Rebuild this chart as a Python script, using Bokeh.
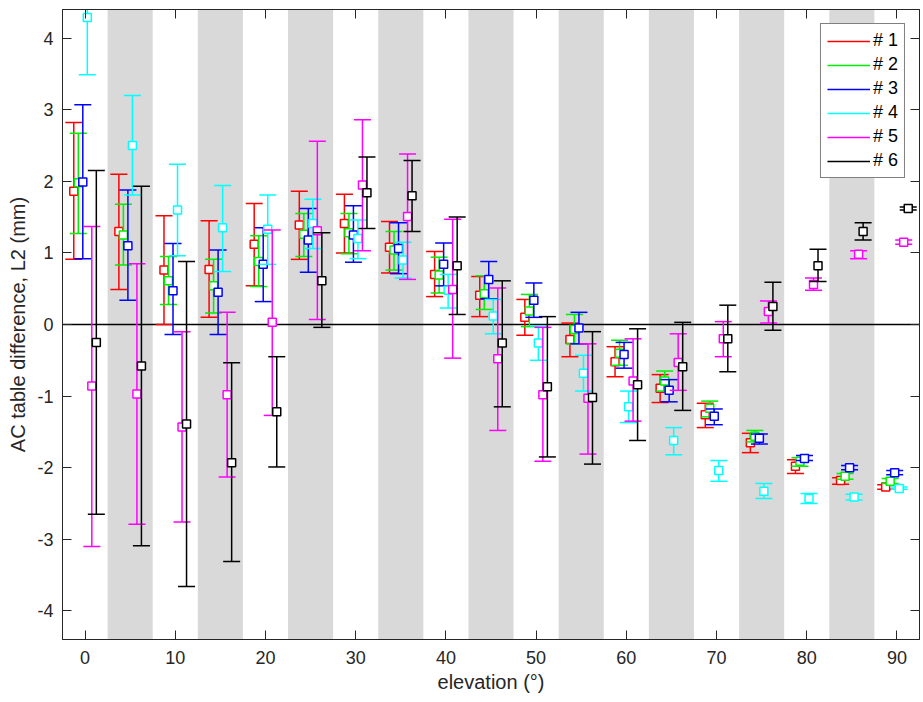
from bokeh.plotting import figure
from bokeh.models import (LinearAxis, BoxAnnotation, Span, Legend, LegendItem,
                          ColumnDataSource, FixedTicker, Range1d)
from bokeh.transform import dodge
from bokeh.embed import file_html
from bokeh.resources import INLINE

# ---------------- data ----------------
elevation = [0, 5, 10, 15, 20, 25, 30, 35, 40, 45, 50, 55, 60, 65, 70, 75, 80, 85, 90]

series_names = ["# 1", "# 2", "# 3", "# 4", "# 5", "# 6"]
series_colors = ["#ff0000", "#00ee00", "#0000ff", "#00ffff", "#ff00ff", "#000000"]
series_offsets = [-1.25, -0.75, -0.25, 0.25, 0.75, 1.25]

s1_mean = [1.86, 1.30, 0.76, 0.77, 1.12, 1.39, 1.41, 1.08, 0.70, 0.41, 0.10, -0.21, -0.52, -0.89, -1.26, -1.65, -1.98, -2.18, -2.27]
s1_up   = [2.82, 2.10, 1.52, 1.45, 1.69, 1.86, 1.82, 1.44, 1.02, 0.67, 0.35, 0.02, -0.31, -0.70, -1.10, -1.52, -1.89, -2.14, -2.24]
s1_lo   = [0.91, 0.49, 0.00, 0.10, 0.54, 0.91, 1.00, 0.72, 0.39, 0.11, -0.15, -0.45, -0.73, -1.09, -1.44, -1.79, -2.08, -2.23, -2.30]

s2_mean = [1.98, 1.25, 0.61, 0.54, 0.88, 1.26, 1.28, 1.04, 0.69, 0.43, 0.19, -0.07, -0.40, -0.79, -1.17, -1.56, -1.91, -2.12, -2.19]
s2_up   = [2.67, 1.68, 0.95, 0.91, 1.24, 1.55, 1.55, 1.30, 0.94, 0.68, 0.42, 0.14, -0.22, -0.65, -1.07, -1.48, -1.86, -2.08, -2.15]
s2_lo   = [1.27, 0.83, 0.28, 0.16, 0.53, 0.95, 0.99, 0.76, 0.44, 0.21, -0.03, -0.27, -0.57, -0.93, -1.29, -1.64, -1.98, -2.16, -2.22]

s3_mean = [1.99, 1.10, 0.47, 0.45, 0.84, 1.18, 1.25, 1.06, 0.84, 0.63, 0.34, -0.05, -0.42, -0.92, -1.28, -1.59, -1.87, -2.00, -2.07]
s3_up   = [3.07, 1.88, 1.13, 1.04, 1.35, 1.62, 1.66, 1.42, 1.14, 0.88, 0.58, 0.17, -0.25, -0.77, -1.18, -1.53, -1.83, -1.97, -2.04]
s3_lo   = [0.92, 0.34, -0.14, -0.14, 0.32, 0.73, 0.87, 0.71, 0.54, 0.36, 0.10, -0.27, -0.61, -1.08, -1.40, -1.67, -1.90, -2.03, -2.10]

s4_mean = [4.29, 2.50, 1.60, 1.35, 1.33, 1.41, 1.20, 0.90, 0.48, 0.12, -0.26, -0.68, -1.15, -1.62, -2.04, -2.33, -2.43, -2.41, -2.29]
s4_up   = [5.09, 3.20, 2.24, 1.94, 1.81, 1.75, 1.46, 1.15, 0.70, 0.35, -0.02, -0.43, -0.93, -1.44, -1.90, -2.22, -2.36, -2.37, -2.27]
s4_lo   = [3.49, 1.81, 0.96, 0.74, 0.84, 1.06, 0.92, 0.65, 0.23, -0.13, -0.50, -0.93, -1.37, -1.82, -2.19, -2.43, -2.50, -2.45, -2.30]

s5_mean = [-0.86, -0.97, -1.43, -0.98, 0.03, 1.31, 1.95, 1.51, 0.49, -0.48, -0.98, -1.03, -0.79, -0.53, -0.20, 0.18, 0.56, 0.98, 1.15]
s5_up   = [1.37, 0.85, -0.10, 0.17, 1.32, 2.56, 2.86, 2.38, 1.47, 0.51, -0.04, -0.27, -0.20, -0.13, 0.04, 0.33, 0.65, 1.03, 1.18]
s5_lo   = [-3.10, -2.79, -2.76, -2.13, -1.27, 0.07, 1.03, 0.63, -0.47, -1.48, -1.91, -1.81, -1.35, -0.92, -0.45, 0.02, 0.48, 0.92, 1.12]

s6_mean = [-0.25, -0.58, -1.39, -1.93, -1.22, 0.61, 1.84, 1.80, 0.82, -0.26, -0.87, -1.02, -0.84, -0.59, -0.20, 0.25, 0.82, 1.30, 1.62]
s6_up   = [2.15, 1.93, 0.88, -0.535, -0.45, 1.28, 2.34, 2.29, 1.50, 0.61, 0.11, -0.10, -0.06, 0.03, 0.27, 0.59, 1.05, 1.42, 1.64]
s6_lo   = [-2.65, -3.09, -3.66, -3.31, -1.99, -0.04, 1.34, 1.30, 0.14, -1.15, -1.85, -1.95, -1.62, -1.20, -0.66, -0.08, 0.60, 1.18, 1.60]

band_centers = [5, 15, 25, 35, 45, 55, 65, 75, 85]
band_width = 5

x_ticks = [0, 10, 20, 30, 40, 50, 60, 70, 80, 90]
y_ticks = [-4, -3, -2, -1, 0, 1, 2, 3, 4]
y_tick_labels = ["-4", "-3", "-2", "-1", "0", "1", "2", "3", "4"]

x_label = "elevation (°)"
y_label = "AC table difference, L2 (mm)"

means = [s1_mean, s2_mean, s3_mean, s4_mean, s5_mean, s6_mean]
uppers = [s1_up, s2_up, s3_up, s4_up, s5_up, s6_up]
lowers = [s1_lo, s2_lo, s3_lo, s4_lo, s5_lo, s6_lo]

# ---------------- figure ----------------
FONT = "Liberation Sans"
AX = "#262626"

p = figure(width=923, height=702,
           x_range=Range1d(-2.5, 92.5), y_range=Range1d(-4.4, 4.4),
           output_backend="svg", toolbar_location=None,
           min_border_left=62, min_border_right=4,
           min_border_top=9, min_border_bottom=63)
p.grid.visible = False
p.background_fill_color = "white"
p.border_fill_color = "white"
p.outline_line_color = AX
p.outline_line_width = 1

top_ax = LinearAxis()
right_ax = LinearAxis()
p.add_layout(top_ax, "above")
p.add_layout(right_ax, "right")

for ax, ticks in [(p.below[0], x_ticks), (top_ax, x_ticks), (p.left[0], y_ticks), (right_ax, y_ticks)]:
    ax.ticker = FixedTicker(ticks=ticks)
    ax.major_tick_in = 9
    ax.major_tick_out = 0
    ax.minor_tick_line_color = None
    ax.axis_line_color = AX
    ax.major_tick_line_color = AX
    ax.axis_line_width = 1
    ax.major_label_text_font = FONT
    ax.major_label_text_font_size = "18px"
    ax.major_label_text_color = AX

# mirrored axes: ticks only, no labels
top_ax.major_label_overrides = {t: "" for t in x_ticks}
right_ax.major_label_overrides = {t: "" for t in y_ticks}
for ax in [top_ax, right_ax]:
    ax.major_label_standoff = 0

xa = p.below[0]
xa.axis_label = x_label
xa.major_label_standoff = 11
xa.axis_label_standoff = 4
ya = p.left[0]
ya.axis_label = y_label
ya.major_label_standoff = 9
ya.axis_label_standoff = 5
ya.major_label_overrides = dict(zip(y_ticks, y_tick_labels))
for ax in [xa, ya]:
    ax.axis_label_text_font = FONT
    ax.axis_label_text_font_size = "20px"
    ax.axis_label_text_font_style = "normal"
    ax.axis_label_text_color = AX

# gray bands
for c in band_centers:
    p.add_layout(BoxAnnotation(left=c - band_width / 2, right=c + band_width / 2,
                               fill_color="#d9d9d9", fill_alpha=1.0,
                               line_alpha=0, level="underlay"))

p.add_layout(Span(location=0, dimension="width", line_color="#000000",
                  line_width=1.5, level="underlay"))

# series
items = []
for name, color, off, m, u, l in zip(series_names, series_colors, series_offsets,
                                     means, uppers, lowers):
    src = ColumnDataSource(dict(elev=elevation, mean=m, up=u, lo=l))
    xd = dodge("elev", off, range=p.x_range)
    seg = p.segment(x0=xd, y0="lo", x1=xd, y1="up", source=src,
                    line_color=color, line_width=1.5)
    p.scatter(x=xd, y="up", source=src, marker="dash", size=17,
              line_color=color, line_width=1.5)
    p.scatter(x=xd, y="lo", source=src, marker="dash", size=17,
              line_color=color, line_width=1.5)
    p.scatter(x=xd, y="mean", source=src, marker="square", size=8,
              fill_color="white", line_color=color, line_width=1.5)
    items.append(LegendItem(label=name, renderers=[seg]))

legend = Legend(items=items, location="top_right", margin=14,
                padding=6, spacing=3, label_standoff=3,
                glyph_width=43, glyph_height=20, label_height=20,
                label_text_font=FONT, label_text_font_size="18px",
                label_text_color="#000000",
                border_line_color="#000000", border_line_width=1,
                background_fill_color="white", background_fill_alpha=1.0)
p.add_layout(legend)

open("out.html", "w").write(file_html(p, INLINE))
